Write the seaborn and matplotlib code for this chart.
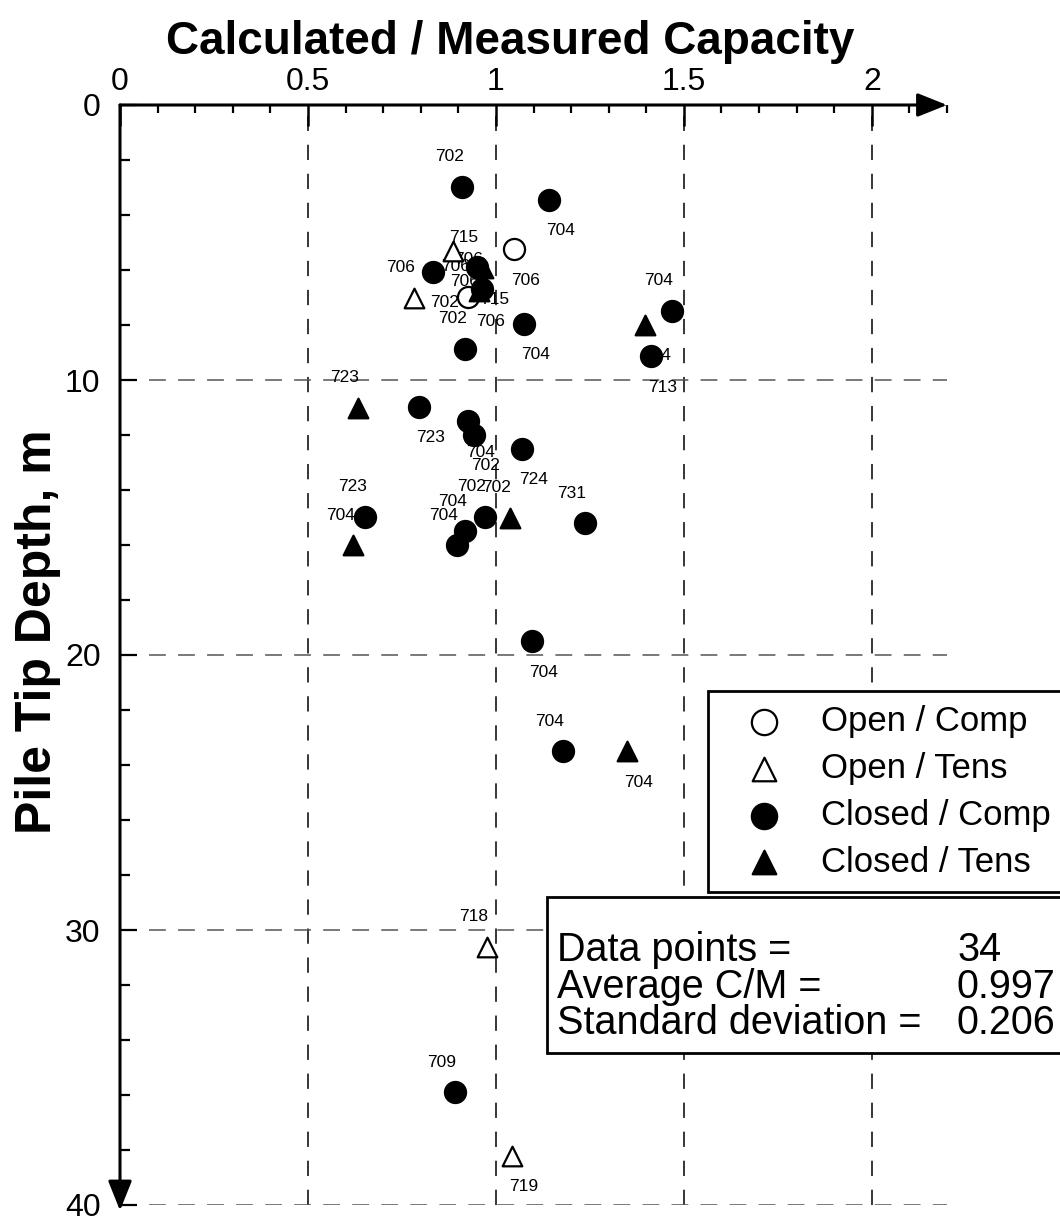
import numpy as np
import pandas as pd
import matplotlib
matplotlib.use("Agg")
import matplotlib.pyplot as plt
import seaborn as sns
from matplotlib.patches import Rectangle

sns.set_theme(style="white")
plt.rcParams["font.family"] = ["Liberation Sans", "DejaVu Sans"]
plt.rcParams["text.color"] = "black"
plt.rcParams["axes.labelcolor"] = "black"
plt.rcParams["xtick.color"] = "black"
plt.rcParams["ytick.color"] = "black"

# ---------------- data ----------------
open_comp_cm = [1.048, 0.926]
open_comp_depth = [5.24, 6.98]
open_comp_pile = ["706", "706"]
open_comp_side = ["BR", "AL"]

open_tens_cm = [0.886, 0.782, 0.976, 1.043]
open_tens_depth = [5.3, 7.0, 30.6, 38.2]
open_tens_pile = ["706", "706", "718", "719"]
open_tens_side = ["BR", "AL", "AL", "BR"]

closed_comp_cm = [0.910, 1.141, 0.949, 0.832, 0.963, 0.918, 1.074, 1.468, 1.412,
                  0.795, 0.926, 0.941, 1.069, 1.237, 0.652, 0.918, 0.896, 0.971,
                  1.096, 1.178, 0.891]
closed_comp_depth = [2.98, 3.45, 5.9, 6.07, 6.7, 8.87, 7.96, 7.49, 9.13,
                     10.98, 11.5, 12.0, 12.5, 15.2, 14.98, 15.5, 16.0, 14.98,
                     19.5, 23.5, 35.9]
closed_comp_pile = ["702", "704", "715", "702", "706", "702", "704", "704", "713",
                    "723", "704", "702", "724", "731", "723", "704", "704", "702",
                    "704", "704", "709"]
closed_comp_side = ["AL", "BR", "AL", "BR", "AL", "AL", "BR", "AL", "BR",
                    "BR", "BR", "BR", "BR", "AL", "AL", "AL", "AL", "AL",
                    "BR", "AL", "AL"]

closed_tens_cm = [0.965, 0.955, 1.396, 0.633, 0.620, 1.037, 1.348]
closed_tens_depth = [5.93, 6.75, 8.0, 11.0, 16.0, 15.0, 23.5]
closed_tens_pile = ["715", "706", "704", "723", "704", "702", "704"]
closed_tens_side = ["BR", "BR", "BR", "AL", "AL", "AL", "BR"]

x_ticks = [0, 0.5, 1, 1.5, 2]
x_tick_labels = ["0", "0.5", "1", "1.5", "2"]
y_ticks = [0, 10, 20, 30, 40]
y_tick_labels = ["0", "10", "20", "30", "40"]

stats_names = ["Data points =", "Average C/M =", "Standard deviation ="]
stats_values = ["34", "0.997", "0.206"]

groups = [
    ("Open / Comp", open_comp_cm, open_comp_depth, open_comp_pile, open_comp_side, "o", "white"),
    ("Open / Tens", open_tens_cm, open_tens_depth, open_tens_pile, open_tens_side, "^", "white"),
    ("Closed / Comp", closed_comp_cm, closed_comp_depth, closed_comp_pile, closed_comp_side, "o", "black"),
    ("Closed / Tens", closed_tens_cm, closed_tens_depth, closed_tens_pile, closed_tens_side, "^", "black"),
]

W, H = 1060, 1221
fig = plt.figure(figsize=(W / 100, H / 100), dpi=100)
ax_l, ax_r, ax_t, ax_b = 120, 947, 105, 1205
ax = fig.add_axes([ax_l / W, 1 - ax_b / H, (ax_r - ax_l) / W, (ax_b - ax_t) / H])

offsets = {"AL": (-13, 30), "BR": (12, -31)}
for name, cm, depth, pile, side, mk, fc in groups:
    df = pd.DataFrame({"cm": cm, "depth": depth})
    sns.scatterplot(data=df, x="cm", y="depth", marker=mk, s=230 if mk == "o" else 200,
                    color=fc, edgecolor="black", linewidth=1.6, ax=ax,
                    label=name, zorder=4, legend=False)
    for xv, yv, t, sd in zip(cm, depth, pile, side):
        ax.annotate(t, (xv, yv), xytext=offsets[sd], textcoords="offset pixels",
                    ha="center", va="center", fontsize=12.5, color="black", zorder=3)

ax.set_xlim(0, 2.2)
ax.set_ylim(40, 0)
ax.set_xlabel("")
ax.set_ylabel("")
for s in ax.spines.values():
    s.set_visible(False)

ax.xaxis.tick_top()
ax.set_xticks(x_ticks)
ax.set_xticklabels(x_tick_labels)
ax.set_xticks(np.arange(0, 2.21, 0.1), minor=True)
ax.set_yticks(y_ticks)
ax.set_yticklabels(y_tick_labels)
ax.set_yticks(np.arange(0, 40.1, 2), minor=True)

ax.tick_params(axis="x", which="major", direction="in", length=15, width=1.8,
               labelsize=23, pad=6, top=True, bottom=False, colors="black")
ax.tick_params(axis="x", which="minor", direction="in", length=6, width=1.6,
               top=True, bottom=False, colors="black")
ax.tick_params(axis="y", which="major", direction="in", length=12, width=1.6,
               labelsize=23, pad=14, left=True, colors="black")
ax.tick_params(axis="y", which="minor", direction="in", length=7, width=1.6,
               left=True, colors="black")

ax.xaxis.grid(True, which="major", color="black", linestyle=(0, (10, 9)), linewidth=1.1)
ax.yaxis.grid(True, which="major", color="#555555", linestyle=(0, (11, 8)), linewidth=1.1)

# axis arrows
arrow_kw = dict(arrowstyle="-|>,head_length=0.7,head_width=0.28", lw=2.2, color="black",
                mutation_scale=26, shrinkA=0, shrinkB=0)
ax.annotate("", xy=(1.0, 1.0), xytext=(0, 1.0), xycoords="axes fraction",
            arrowprops=arrow_kw, zorder=6)
ax.annotate("", xy=(0, -0.005), xytext=(0, 1.0), xycoords="axes fraction",
            arrowprops=arrow_kw, zorder=6)

fig.text(510 / W, 1 - 42 / H, "Calculated / Measured Capacity", ha="center", va="center",
         fontsize=33, fontweight="bold")
fig.text(38 / W, 1 - 632 / H, "Pile Tip Depth, m", ha="center", va="center",
         rotation=90, fontsize=36, fontweight="bold")

# legend
handles, labels = ax.get_legend_handles_labels()
leg = ax.legend(handles, labels, loc="upper left", bbox_to_anchor=(708 / W, 1 - 691 / H),
                bbox_transform=fig.transFigure, borderaxespad=0, fontsize=25,
                frameon=True, fancybox=False, framealpha=1, edgecolor="black",
                handlelength=2.45, handletextpad=0.4, borderpad=0.4, labelspacing=0.4,
                markerscale=1.2)
leg.get_frame().set_linewidth(2)
leg.set_zorder(10)

# stats box
box = Rectangle((547 / W, 1 - 1053 / H), 0.6, (1053 - 897) / H, transform=fig.transFigure,
                facecolor="white", edgecolor="black", linewidth=2, zorder=10)
fig.add_artist(box)
for i, (nm, val) in enumerate(zip(stats_names, stats_values)):
    yc = 950 + 36.5 * i
    fig.text(557 / W, 1 - yc / H, nm, ha="left", va="center", fontsize=28.5, zorder=11)
    fig.text(957 / W, 1 - yc / H, val, ha="left", va="center", fontsize=28.5, zorder=11)

fig.savefig("out.png", dpi=100)
